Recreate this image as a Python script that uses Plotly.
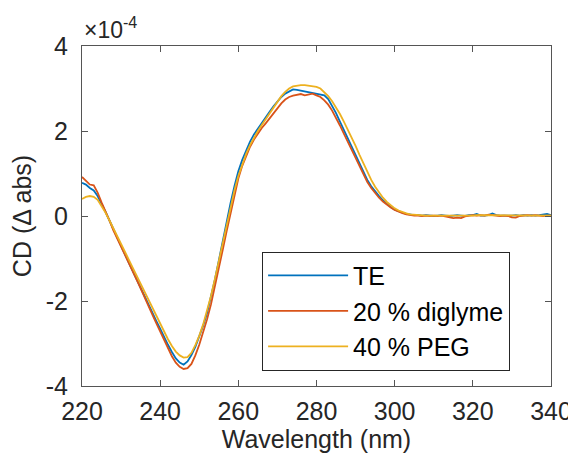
import plotly.graph_objects as go

# CD spectra, values in units of 1e-4 (delta abs)
wavelength = list(range(220, 341))

te = [
    0.78, 0.74, 0.66, 0.60, 0.47, 0.30, 0.10, -0.10, -0.31, -0.50,
    -0.70, -0.90, -1.10, -1.30, -1.50, -1.70, -1.90, -2.10, -2.29, -2.47,
    -2.65, -2.85, -3.03, -3.20, -3.35, -3.45, -3.50, -3.42, -3.27, -3.08,
    -2.85, -2.58, -2.28, -1.92, -1.50, -1.05, -0.58, -0.12, 0.30, 0.70,
    1.05, 1.32, 1.55, 1.75, 1.92, 2.06, 2.18, 2.32, 2.45, 2.58,
    2.70, 2.80, 2.88, 2.94, 2.98, 2.97, 2.95, 2.93, 2.91, 2.89,
    2.87, 2.86, 2.84, 2.75, 2.60, 2.42, 2.22, 2.02, 1.82, 1.62,
    1.42, 1.22, 1.03, 0.85, 0.70, 0.57, 0.47, 0.37, 0.28, 0.21,
    0.15, 0.11, 0.08, 0.05, 0.03, 0.02,
    0.02, 0.01, 0.02, 0.01, 0.00, 0.01, 0.02, 0.01, 0.00, 0.01,
    0.02, 0.01, 0.00, 0.02, 0.02, 0.05, 0.01, 0.01, 0.02, 0.06,
    0.02, 0.01, 0.01, 0.00, 0.01, 0.02, 0.01, 0.02, 0.01, 0.02,
    0.01, 0.02, 0.03, 0.05, 0.02,
]

diglyme = [
    0.92, 0.82, 0.74, 0.72, 0.55, 0.32, 0.12, -0.10, -0.33, -0.52,
    -0.72, -0.92, -1.10, -1.30, -1.50, -1.70, -1.92, -2.12, -2.32, -2.52,
    -2.72, -2.92, -3.12, -3.30, -3.45, -3.55, -3.60, -3.58, -3.48, -3.28,
    -3.03, -2.75, -2.43, -2.08, -1.68, -1.25, -0.80, -0.36, 0.08, 0.50,
    0.88, 1.18, 1.42, 1.63, 1.80, 1.95, 2.07, 2.18, 2.30, 2.42,
    2.55, 2.65, 2.74, 2.80, 2.83, 2.85, 2.87, 2.84, 2.86, 2.88,
    2.84, 2.80, 2.72, 2.62, 2.48, 2.32, 2.13, 1.94, 1.75, 1.55,
    1.35, 1.16, 0.97, 0.80, 0.66, 0.54, 0.43, 0.34, 0.26, 0.20,
    0.14, 0.10, 0.07, 0.04, 0.02, 0.01,
    0.01, 0.00, 0.01, 0.00, 0.01, 0.00, 0.01, -0.01, -0.02, -0.05,
    -0.04, -0.05, -0.01, 0.01, 0.02, 0.01, 0.02, 0.01, 0.03, 0.02,
    0.01, 0.00, 0.01, 0.00, -0.03, -0.04, 0.00, 0.01, 0.02, 0.01,
    0.02, 0.01, 0.00, 0.01, 0.01,
]

peg = [
    0.40, 0.45, 0.47, 0.45, 0.38, 0.24, 0.08, -0.10, -0.28, -0.46,
    -0.65, -0.84, -1.03, -1.22, -1.41, -1.60, -1.79, -1.98, -2.17, -2.36,
    -2.54, -2.72, -2.90, -3.06, -3.19, -3.28, -3.33, -3.32, -3.22, -3.04,
    -2.82, -2.55, -2.24, -1.88, -1.48, -1.05, -0.62, -0.20, 0.22, 0.60,
    0.94, 1.22, 1.46, 1.67, 1.85, 2.00, 2.14, 2.28, 2.42, 2.56,
    2.70, 2.82, 2.92, 3.00, 3.05, 3.07, 3.08, 3.08, 3.07, 3.06,
    3.04, 3.00, 2.92, 2.82, 2.70, 2.56, 2.40, 2.22, 2.04, 1.85,
    1.65, 1.44, 1.23, 1.03, 0.85, 0.69, 0.55, 0.43, 0.33, 0.25,
    0.18, 0.13, 0.09, 0.06, 0.04, 0.03,
    0.02, 0.02, 0.01, 0.01, 0.01, 0.01, 0.01, 0.01, 0.00, 0.00,
    0.01, 0.01, 0.01, 0.01, 0.01, 0.02, 0.02, 0.01, 0.01, 0.01,
    0.01, 0.01, 0.01, 0.01, 0.01, 0.01, 0.01, 0.01, 0.01, 0.01,
    0.01, 0.01, 0.01, 0.01, 0.01,
]

names = ['TE', '20 % diglyme', '40 % PEG']
colors = ['#0072BD', '#D95319', '#EDB120']

x_ticks = [220, 240, 260, 280, 300, 320, 340]
y_ticks = [-4, -2, 0, 2, 4]
y_ticktext = ['-4', '-2', '0', '2', '4']

font = 'Liberation Sans, Arial, sans-serif'
ink = '#262626'

fig = go.Figure()
for name, vals, col in zip(names, [te, diglyme, peg], colors):
    fig.add_trace(go.Scatter(x=wavelength, y=vals, name=name, mode='lines',
                             line=dict(color=col, width=1.8)))

axis_style = dict(showline=True, linecolor='#555555', linewidth=1, mirror='ticks',
                  ticks='inside', ticklen=6, tickcolor='#555555', showgrid=False,
                  zeroline=False, automargin=False,
                  tickfont=dict(family=font, size=25, color=ink))

fig.update_xaxes(range=[220, 340], tickvals=x_ticks, ticklabelstandoff=3,
                 title=dict(text='Wavelength (nm)', standoff=4,
                            font=dict(family=font, size=25, color=ink)), **axis_style)
fig.update_yaxes(range=[-4, 4], tickvals=y_ticks, ticktext=y_ticktext, ticklabelstandoff=8,
                 title=dict(text='CD (Δ abs)', standoff=8,
                            font=dict(family=font, size=25, color=ink)), **axis_style)

fig.add_annotation(xref='paper', yref='paper', x=0, y=1, xanchor='left', yanchor='bottom',
                   text='×10<sup>-4</sup>', showarrow=False, yshift=1,
                   font=dict(family=font, size=23, color=ink))

# the page body adds 8 px on the left and top, so the figure is 8 px smaller
fig.update_layout(
    width=568, height=452,
    margin=dict(l=74, r=25, t=38, b=74),
    paper_bgcolor='white', plot_bgcolor='white',
    font=dict(family=font, color=ink),
    legend=dict(x=0.384, y=0.395, xanchor='left', yanchor='top',
                bordercolor=ink, borderwidth=1, bgcolor='white',
                itemwidth=80, entrywidth=165,
                font=dict(family=font, size=25, color='black')),
)

fig.write_html('out.html')
